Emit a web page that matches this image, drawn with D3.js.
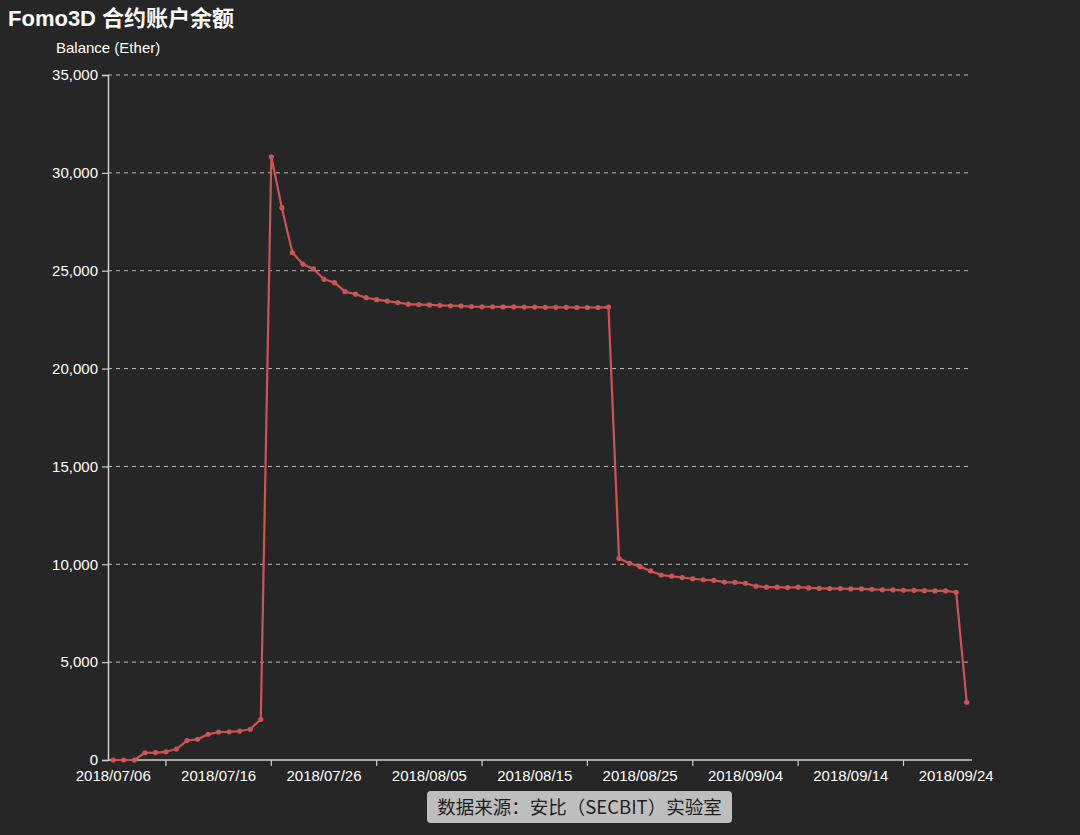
<!DOCTYPE html>
<html>
<head>
<meta charset="utf-8">
<script src="https://cdn.jsdelivr.net/npm/d3@7"></script>
<style>
  html, body { margin: 0; padding: 0; background: #262626; }
  svg { display: block; font-family: "Liberation Sans", Arial, "Noto Sans CJK SC", sans-serif; }
</style>
</head>
<body>
<svg id="chart" width="1080" height="835"></svg>
<script>
const dates = [
  "2018/07/06","2018/07/07","2018/07/08","2018/07/09","2018/07/10","2018/07/11","2018/07/12","2018/07/13","2018/07/14","2018/07/15",
  "2018/07/16","2018/07/17","2018/07/18","2018/07/19","2018/07/20","2018/07/21","2018/07/22","2018/07/23","2018/07/24","2018/07/25",
  "2018/07/26","2018/07/27","2018/07/28","2018/07/29","2018/07/30","2018/07/31","2018/08/01","2018/08/02","2018/08/03","2018/08/04",
  "2018/08/05","2018/08/06","2018/08/07","2018/08/08","2018/08/09","2018/08/10","2018/08/11","2018/08/12","2018/08/13","2018/08/14",
  "2018/08/15","2018/08/16","2018/08/17","2018/08/18","2018/08/19","2018/08/20","2018/08/21","2018/08/22","2018/08/23","2018/08/24",
  "2018/08/25","2018/08/26","2018/08/27","2018/08/28","2018/08/29","2018/08/30","2018/08/31","2018/09/01","2018/09/02","2018/09/03",
  "2018/09/04","2018/09/05","2018/09/06","2018/09/07","2018/09/08","2018/09/09","2018/09/10","2018/09/11","2018/09/12","2018/09/13",
  "2018/09/14","2018/09/15","2018/09/16","2018/09/17","2018/09/18","2018/09/19","2018/09/20","2018/09/21","2018/09/22","2018/09/23",
  "2018/09/24","2018/09/25"
];
const balance = [
  0, 0, 0, 370, 380, 420, 560, 990, 1060, 1310,
  1430, 1440, 1480, 1570, 2080, 30820, 28220, 25920, 25340, 25090,
  24560, 24390, 23930, 23800, 23620, 23520, 23450, 23370, 23290, 23270,
  23250, 23230, 23210, 23200, 23170, 23160, 23160, 23150, 23150, 23140,
  23140, 23130, 23130, 23130, 23120, 23120, 23120, 23140, 10300, 10050,
  9880, 9660, 9450, 9390, 9320, 9260, 9210, 9180, 9090, 9080,
  9030, 8880, 8830, 8830, 8810, 8830, 8790, 8770, 8760, 8760,
  8740, 8740, 8720, 8700, 8690, 8670, 8670, 8650, 8640, 8640,
  8570, 2950
];
const xLabelDates = ["2018/07/06","2018/07/16","2018/07/26","2018/08/05","2018/08/15","2018/08/25","2018/09/04","2018/09/14","2018/09/24"];
const xTickDates = ["2018/07/11","2018/07/21","2018/07/31","2018/08/10","2018/08/20","2018/08/30","2018/09/09","2018/09/19"];
const yTicks = [0, 5000, 10000, 15000, 20000, 25000, 30000, 35000];

const title = "Fomo3D 合约账户余额";
const yTitle = "Balance (Ether)";
const source = "数据来源：安比（SECBIT）实验室";

const svg = d3.select("#chart");
const pLeft = 108, pRight = 972, pTop = 75, pBottom = 760;
const axisColor = "#cfcfcf";
const lineColor = "#cb5552";

const x = d3.scalePoint().domain(dates).range([pLeft, pRight]).padding(0.5);
const y = d3.scaleLinear().domain([0, 35000]).range([pBottom, pTop]);

// title
svg.append("text").attr("x", 8).attr("y", 26)
  .attr("fill", "#ffffff").attr("font-size", 22).attr("font-weight", "bold")
  .text(title);
svg.append("text").attr("x", 56).attr("y", 53)
  .attr("fill", "#ffffff").attr("font-size", 15)
  .text(yTitle);

// grid lines
svg.append("g").selectAll("line").data(yTicks.filter(d => d > 0)).join("line")
  .attr("x1", pLeft).attr("x2", pRight)
  .attr("y1", d => y(d)).attr("y2", d => y(d))
  .attr("stroke", "#bdbdbd").attr("stroke-width", 1)
  .attr("stroke-dasharray", "4,4");

// y axis
const yAxis = svg.append("g").attr("transform", `translate(${pLeft},0)`)
  .call(d3.axisLeft(y).tickValues(yTicks).tickFormat(d3.format(",")).tickSizeOuter(0).tickSize(6));
yAxis.select(".domain").attr("stroke", axisColor).attr("stroke-width", 1.5);
yAxis.selectAll(".tick line").attr("stroke", axisColor).attr("stroke-width", 1.2);
yAxis.selectAll(".tick text").attr("fill", "#ffffff").attr("font-size", 15)
  .attr("font-family", "Liberation Sans, Arial, sans-serif").attr("x", -10);

// x axis
const xAxisG = svg.append("g").attr("transform", `translate(0,${pBottom})`);
xAxisG.append("line").attr("x1", pLeft).attr("x2", pRight).attr("y1", 0).attr("y2", 0)
  .attr("stroke", axisColor).attr("stroke-width", 1.5);
xAxisG.selectAll("line.tk").data(xTickDates).join("line").attr("class", "tk")
  .attr("x1", d => x(d)).attr("x2", d => x(d)).attr("y1", 0).attr("y2", 6)
  .attr("stroke", axisColor).attr("stroke-width", 1.2);
xAxisG.selectAll("text").data(xLabelDates).join("text")
  .attr("x", d => x(d)).attr("y", 21)
  .attr("text-anchor", "middle").attr("fill", "#ffffff").attr("font-size", 15)
  .text(d => d);

// line
const line = d3.line().x((d, i) => x(dates[i])).y(d => y(d));
svg.append("path").datum(balance)
  .attr("d", line).attr("fill", "none")
  .attr("stroke", lineColor).attr("stroke-width", 2.2).attr("stroke-linejoin", "round");
svg.append("g").selectAll("circle").data(balance).join("circle")
  .attr("cx", (d, i) => x(dates[i])).attr("cy", d => y(d)).attr("r", 2.6)
  .attr("fill", lineColor);

// source box
const sg = svg.append("g");
sg.append("rect").attr("x", 427).attr("y", 791).attr("width", 305).attr("height", 32)
  .attr("rx", 4).attr("fill", "#bebebe");
sg.append("text").attr("x", 579.5).attr("y", 814).attr("text-anchor", "middle")
  .attr("fill", "#1e1e1e").attr("font-size", 18.5)
  .attr("font-family", "'Noto Sans CJK SC', 'Liberation Sans', sans-serif")
  .text(source);
</script>
</body>
</html>
